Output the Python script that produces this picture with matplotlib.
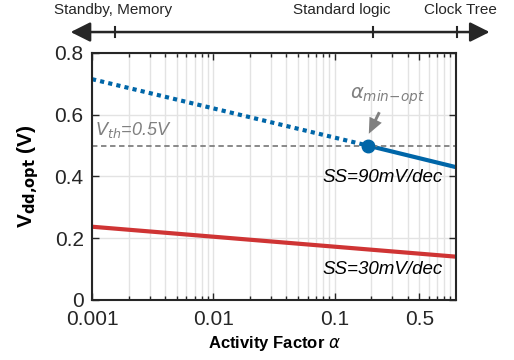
import numpy as np
import matplotlib.pyplot as plt
from matplotlib.patches import FancyArrowPatch

plt.rcParams['font.family'] = ['Liberation Sans', 'DejaVu Sans']

# Data
alpha_dotted = [0.001, 0.187]
vdd90_dotted = [0.715, 0.50]
alpha_solid = [0.187, 1.0]
vdd90_solid = [0.50, 0.43]
alpha_30 = [0.001, 1.0]
vdd30 = [0.237, 0.14]
alpha_min_opt = 0.187
v_th = 0.5

x_ticks = [0.001, 0.01, 0.1, 0.5]
x_tick_labels = ['0.001', '0.01', '0.1', '0.5']
y_ticks = [0, 0.2, 0.4, 0.6, 0.8]
y_tick_labels = ['0', '0.2', '0.4', '0.6', '0.8']

# Application regions named above the top arrow
regions = ['Standby, Memory', 'Standard logic', 'Clock Tree']

blue = '#0066A8'
red = '#CF3434'
grey = '#808080'

fig = plt.figure(figsize=(5.14, 3.6), dpi=100)
ax = fig.add_axes([0.179, 0.167, 0.708, 0.686])

ax.plot(alpha_dotted, vdd90_dotted, color=blue, lw=3, linestyle=(0, (1, 1)))
ax.plot(alpha_solid, vdd90_solid, color=blue, lw=3, solid_capstyle='butt')
ax.plot(alpha_30, vdd30, color=red, lw=3, solid_capstyle='butt')
ax.axhline(v_th, color=grey, lw=1.3, linestyle=(0, (3, 2)))
ax.plot([alpha_min_opt], [v_th], 'o', color=blue, ms=9, zorder=5)

ax.set_xscale('log')
ax.set_xlim(0.001, 1.0)
ax.set_ylim(0, 0.8)
ax.set_xticks(x_ticks)
ax.set_xticklabels(x_tick_labels)
ax.set_yticks(y_ticks)
ax.set_yticklabels(y_tick_labels)
ax.tick_params(which='both', direction='in', top=True, right=True,
               labelsize=15, color='#262626', labelcolor='#262626')
ax.tick_params(which='major', length=5, width=1)
ax.tick_params(which='minor', length=3, width=1)
ax.tick_params(axis='x', pad=7)
ax.tick_params(axis='y', pad=6)
ax.grid(True, which='both', axis='x', color='#e3e3e3', lw=1)
ax.grid(True, which='major', axis='y', color='#e3e3e3', lw=1)
ax.set_axisbelow(True)
for s in ax.spines.values():
    s.set_linewidth(1.5)
    s.set_color('#262626')

ax.set_xlabel(r'Activity Factor $\alpha$', fontsize=12, fontweight='bold', labelpad=4)
ax.set_ylabel(r'V$_{\mathbf{dd{,}opt}}$ (V)', fontsize=15, fontweight='bold', labelpad=10)

ax.text(0.00105, 0.55, r'$V_{th}$=0.5V', color=grey, fontsize=13,
        style='italic', ha='left', va='center')
ax.annotate(r'$\alpha_{min\mathrm{-}opt}$', xy=(alpha_min_opt, 0.53),
            xytext=(alpha_min_opt * 1.45, 0.625), color=grey, fontsize=14,
            ha='center', va='bottom',
            arrowprops=dict(arrowstyle='simple,head_width=0.7,head_length=0.8,tail_width=0.15',
                            color=grey, lw=0))
ax.text(0.78, 0.395, 'SS=90mV/dec', fontsize=13.5, style='italic', ha='right', va='center')
ax.text(0.78, 0.097, 'SS=30mV/dec', fontsize=13.5, style='italic', ha='right', va='center')

# Top arrow with application regions
y_arr = 0.911
arr = FancyArrowPatch((0.132, y_arr), (0.958, y_arr), transform=fig.transFigure,
                      arrowstyle='<|-|>,head_length=12,head_width=6',
                      mutation_scale=1, color='#262626', lw=1.8)
fig.patches.append(arr)
for xt in [0.224, 0.726, 0.889]:
    fig.add_artist(plt.Line2D([xt, xt], [y_arr - 0.013, y_arr + 0.013],
                              transform=fig.transFigure, color='#262626', lw=1.5))
for name, xc in zip(regions, [0.22, 0.665, 0.895]):
    fig.text(xc, 0.972, name, ha='center', va='center', fontsize=11, color='#262626')

fig.savefig('out.png', dpi=100)
